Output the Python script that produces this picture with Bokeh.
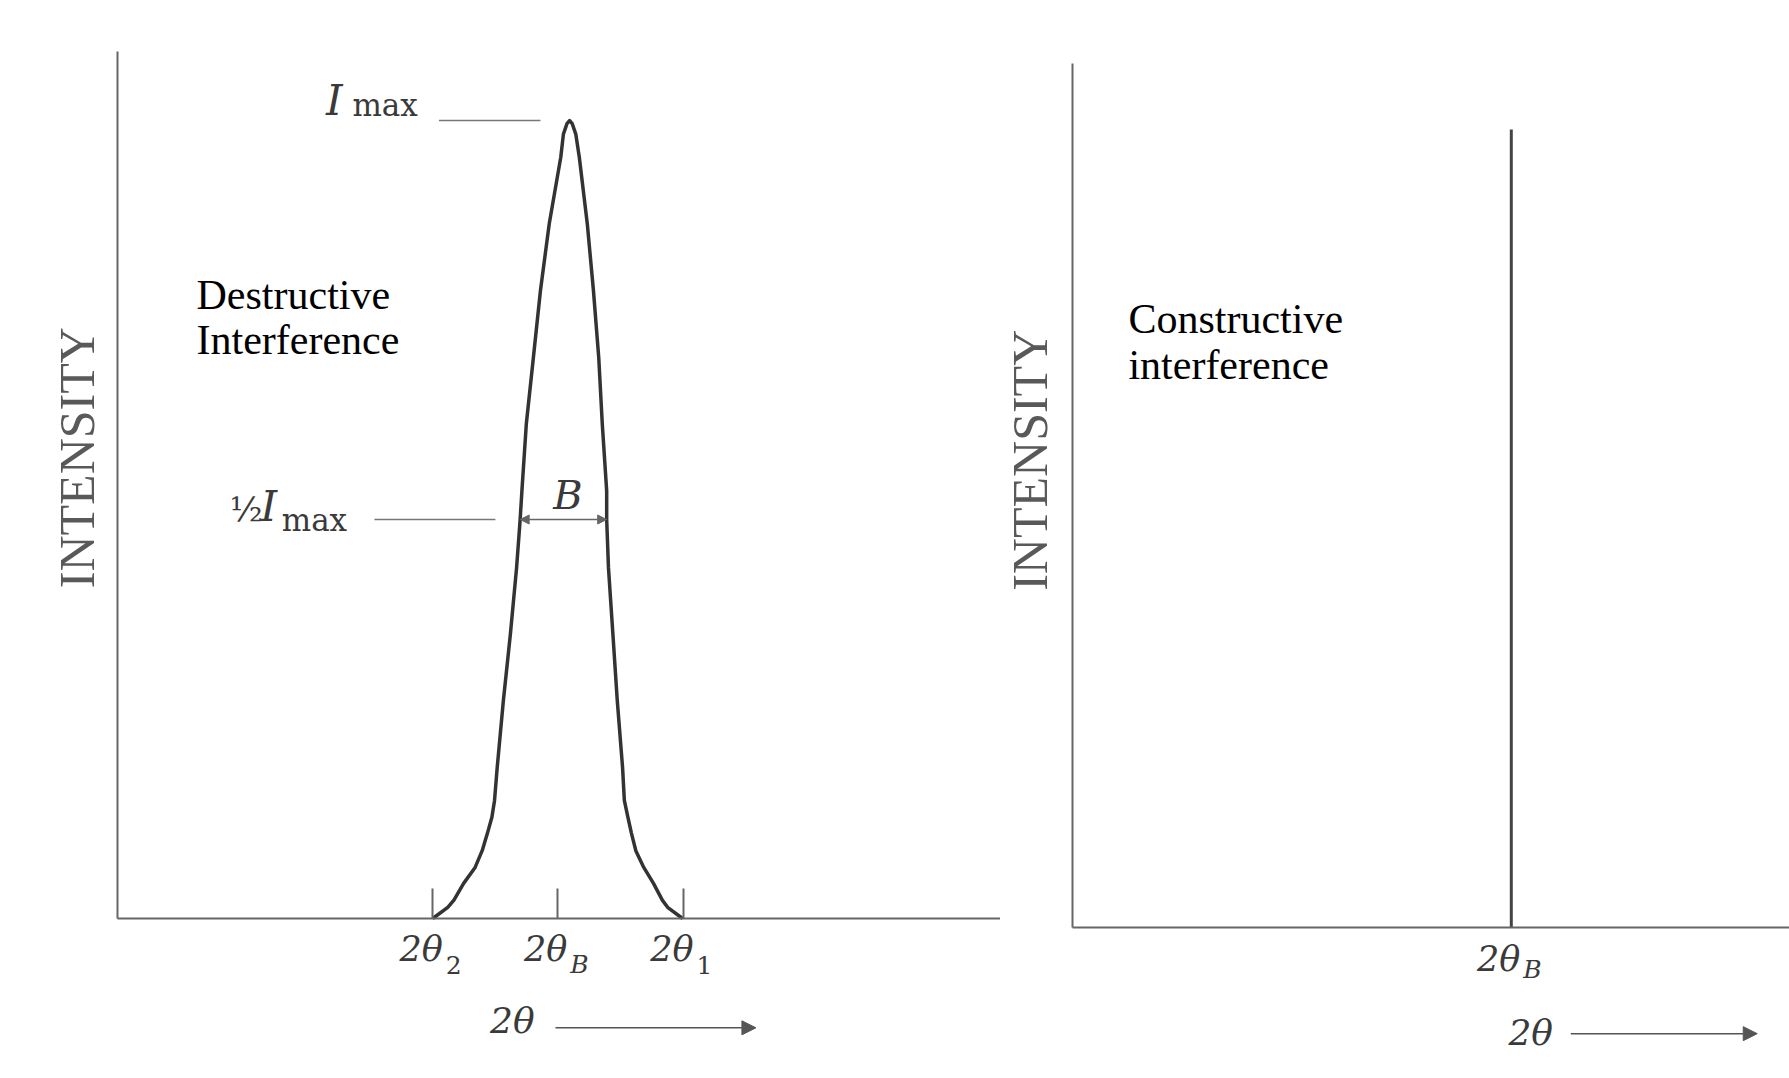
import math
from bokeh.plotting import figure
from bokeh.layouts import row
from bokeh.models import (Range1d, FixedTicker, Label, Arrow, NormalHead,
                          CustomJSTickFormatter)
from bokeh.embed import file_html
from bokeh.resources import INLINE

# ---------------- data ----------------
# left panel: broadened diffraction peak (arbitrary units, I_max = 100)
peak_x = [35.7, 37.4, 38.1, 39.2, 40.5, 41.3, 41.9, 42.4, 42.7, 43.0, 43.7,
          44.5, 45.2, 45.6, 45.8, 46.3, 47.1, 47.9, 48.9, 50.2, 50.5, 50.9,
          51.2, 51.5, 51.9, 52.3, 53.2, 53.9, 54.5, 54.9, 55.4, 55.4, 55.6,
          56.1, 56.6, 57.2, 57.4, 57.8, 58.2, 58.7, 59.6, 60.7, 61.7, 62.3,
          64.0]
peak_y = [0.0, 1.4, 2.3, 4.4, 6.4, 8.5, 10.7, 12.7, 14.8, 18.9, 27.3,
          35.7, 44.0, 50.0, 53.6, 62.0, 70.3, 78.7, 87.1, 95.4, 98.3, 99.6,
          100.0, 99.6, 98.3, 95.4, 87.1, 78.7, 70.3, 62.0, 53.6, 50.0, 44.0,
          35.7, 27.3, 18.9, 14.8, 12.7, 10.7, 8.5, 6.4, 4.4, 2.3, 1.4,
          0.0]
tick_pos = [35.7, 49.8, 64.1]
tick_main = ["2θ", "2θ", "2θ"]
tick_sub = ["2", "B", "1"]
I_max = 100.0
half_max = 50.0
B_left, B_right = 45.6, 55.4
imax_line_x = [36.4, 47.9]
half_line_x = [29.1, 42.8]

# right panel: ideal (sharp) peak
spike_x = 61.2
spike_height = 100.0

# ---------------- styling ----------------
AX = "#666666"
INK = "#3a3a3a"
SERIF = "Liberation Serif"
MATH = "DejaVu Serif"


def lab(p, x, y, text, size, color=INK, font=MATH, style="normal",
        align="left", baseline="alphabetic", angle=0.0, xo=0, yo=None):
    if yo is None:
        yo = round(0.36 * size) if baseline == "alphabetic" else 6
    p.add_layout(Label(x=x, y=y, text=text, text_font=font,
                       text_font_size=f"{size}px", text_color=color,
                       text_font_style=style, text_align=align,
                       text_baseline=baseline, angle=angle,
                       x_offset=xo, y_offset=yo))


def base_fig(width, height, xr, yr, ytop):
    p = figure(width=width, height=height, output_backend="svg",
               toolbar_location=None, title=None,
               x_range=Range1d(*xr), y_range=Range1d(*yr),
               min_border=0, min_border_left=0, min_border_right=0,
               min_border_top=0, min_border_bottom=0)
    p.grid.visible = False
    p.outline_line_color = None
    p.background_fill_color = "white"
    p.border_fill_color = "white"
    for ax in (p.xaxis[0], p.yaxis[0]):
        ax.fixed_location = 0
        ax.axis_line_color = AX
        ax.axis_line_width = 2
        ax.minor_tick_line_color = None
        ax.minor_tick_out = 0
        ax.minor_tick_in = 0
        ax.major_tick_out = 0
        ax.major_label_standoff = 0
        ax.formatter = CustomJSTickFormatter(code="return ''")
        ax.major_label_text_font_size = "0px"
    p.xaxis.bounds = (0, 100)
    p.yaxis.bounds = (0, ytop)
    p.yaxis.ticker = FixedTicker(ticks=[])
    p.yaxis.major_tick_in = 0
    return p


# ---------------- left panel ----------------
p1 = base_fig(1000, 1078, (-13.25, 100.0), (-20.05, 115.04), 108.6)
p1.xaxis.ticker = FixedTicker(ticks=tick_pos)
p1.xaxis.major_tick_in = 30
p1.xaxis.major_tick_line_color = AX
p1.xaxis.major_tick_line_width = 2

p1.line(peak_x, peak_y, line_color="#333333", line_width=3.5,
        line_join="round")
p1.line(imax_line_x, [I_max, I_max], line_color="#777777", line_width=1.6)
p1.line(half_line_x, [half_max, half_max], line_color="#777777",
        line_width=1.6)
p1.add_layout(Arrow(x_start=B_left, y_start=half_max, x_end=B_right,
                    y_end=half_max, line_color="#666666", line_width=1.5,
                    start=NormalHead(size=9, fill_color="#666666",
                                     line_color="#666666"),
                    end=NormalHead(size=9, fill_color="#666666",
                                   line_color="#666666")))

lab(p1, -4.6, 57.0, "INTENSITY", 50, color="#595959", font=SERIF,
    align="center", baseline="middle", angle=math.pi / 2)
lab(p1, 8.95, 76.2, "Destructive", 42, color="black", font=SERIF)
lab(p1, 8.95, 70.6, "Interference", 42, color="black", font=SERIF)

# I_max label
lab(p1, 23.6, 100.6, "I", 42, style="italic")
lab(p1, 26.6, 100.6, "max", 31)
# 1/2 I_max label
lab(p1, 12.7, 49.8, "½", 34)
lab(p1, 16.2, 49.8, "I", 42, style="italic")
lab(p1, 18.6, 48.5, "max", 31)
# B
lab(p1, (B_left + B_right) / 2 + 0.5, 51.3, "B", 40, style="italic",
    align="center")

# tick labels
for t, m, s in zip(tick_pos, tick_main, tick_sub):
    lab(p1, t, -5.5, m, 35, style="italic", align="right", xo=10)
    lab(p1, t, -6.9, s, 25, style="italic" if s == "B" else "normal",
        xo=13)

# 2θ axis caption with arrow
lab(p1, 42.2, -14.4, "2θ", 36, style="italic")
p1.add_layout(Arrow(x_start=49.6, y_start=-13.7, x_end=72.3, y_end=-13.7,
                    line_color="#555555", line_width=1.5,
                    end=NormalHead(size=14, fill_color="#555555",
                                   line_color="#555555")))

# ---------------- right panel ----------------
p2 = base_fig(789, 1078, (-10.04, 100.0), (-18.92, 116.17), 108.3)
p2.xaxis.ticker = FixedTicker(ticks=[])
p2.xaxis.major_tick_in = 0

p2.line([spike_x, spike_x], [0, spike_height], line_color="#444444",
        line_width=3)

lab(p2, -5.86, 57.8, "INTENSITY", 50, color="#595959", font=SERIF,
    align="center", baseline="middle", angle=math.pi / 2)
lab(p2, 7.8, 74.4, "Constructive", 42, color="black", font=SERIF)
lab(p2, 7.8, 68.6, "interference", 42, color="black", font=SERIF)

lab(p2, spike_x, -5.6, "2θ", 35, style="italic", align="right", xo=9)
lab(p2, spike_x, -6.4, "B", 25, style="italic", xo=12)

lab(p2, 60.8, -14.2, "2θ", 36, style="italic", yo=8)
p2.add_layout(Arrow(x_start=69.5, y_start=-13.3, x_end=95.5, y_end=-13.3,
                    line_color="#555555", line_width=1.5,
                    end=NormalHead(size=14, fill_color="#555555",
                                   line_color="#555555")))

layout = row(p1, p2)
open("out.html", "w").write(file_html(layout, INLINE))
